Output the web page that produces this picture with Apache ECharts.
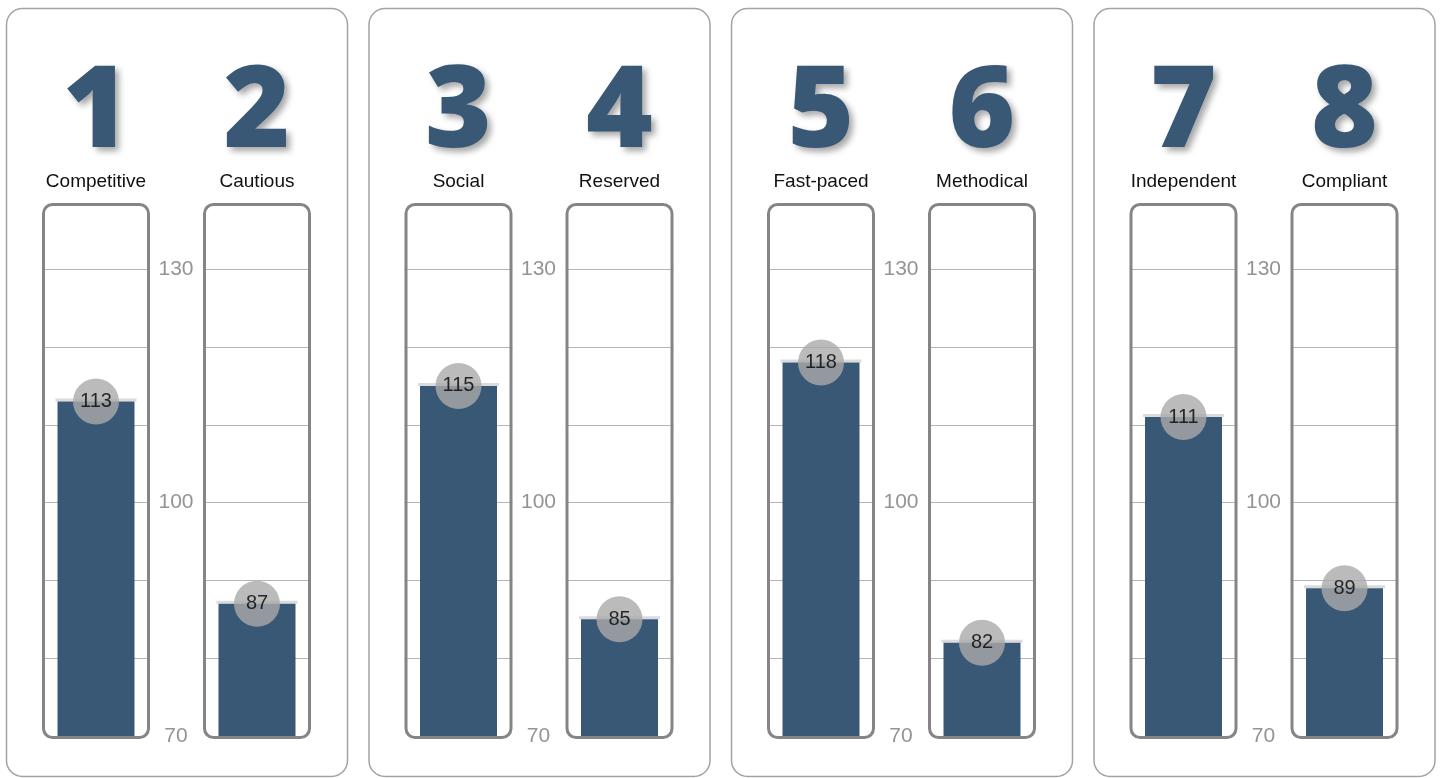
<!DOCTYPE html>
<html><head><meta charset="utf-8">
<script src="https://cdn.jsdelivr.net/npm/echarts@6/dist/echarts.min.js"></script>
<style>html,body{margin:0;padding:0;background:#fff}#c{width:1442px;height:778px}</style>
</head><body><div id="c"></div>
<script>
const ranks = ['1','2','3','4','5','6','7','8'];
const categories = ['Competitive','Cautious','Social','Reserved','Fast-paced','Methodical','Independent','Compliant'];
const scores = [113,87,115,85,118,82,111,89];
const axisMin = 70, axisMax = 138, axisStep = 10;
const gridValues = [80,90,100,110,120,130];
const shownTicks = [70,100,130];

const BAR = '#395876';
const PANEL_X0 = 6, PANEL_STEP = 362.5, PANEL_W = 341, PANEL_Y = 8, PANEL_H = 768;
const BOX_OFF = [36, 197], BOX_W = 108, GRID_TOP = 207, GRID_BOTTOM = 42;

const grids=[], xAxes=[], yAxes=[], series=[], graphics=[];
for (let p=0;p<4;p++){
  const px = PANEL_X0 + p*PANEL_STEP;
  graphics.push({type:'rect', silent:true, z:0,
    shape:{x:px+0.5,y:PANEL_Y+0.5,width:PANEL_W,height:PANEL_H,r:16},
    style:{fill:'none',stroke:'#a3a3a3',lineWidth:1.5}});
}
categories.forEach((cat,i)=>{
  const p = Math.floor(i/2), k = i%2;
  const left = PANEL_X0 + p*PANEL_STEP + BOX_OFF[k];
  grids.push({left:left, width:BOX_W, top:GRID_TOP, bottom:GRID_BOTTOM});
  xAxes.push({type:'category', gridIndex:i, data:[cat], position:'top',
    axisLine:{show:false}, axisTick:{show:false},
    axisLabel:{margin:16, fontSize:19, color:'#111', fontFamily:'Liberation Sans, Arial, sans-serif'},
    name:ranks[i], nameLocation:'middle', nameGap:35, nameMoveOverlap:false,
    nameTextStyle:{fontFamily:'Open Sans', fontWeight:800, fontSize:114, color:BAR,
      textShadowColor:'rgba(0,0,0,0.35)', textShadowBlur:6, textShadowOffsetX:4, textShadowOffsetY:4}});
  yAxes.push({type:'value', gridIndex:i, min:axisMin, max:axisMax, interval:axisStep, position:'right',
    axisLine:{show:false}, axisTick:{show:false}, splitLine:{show:false},
    axisLabel:{show:k===0, margin:26, align:'center', fontSize:21, color:'#949494',
      fontFamily:'Liberation Sans, Arial, sans-serif',
      formatter:v=>shownTicks.includes(v)?String(v):''}});
  series.push({type:'bar', xAxisIndex:i, yAxisIndex:i, data:[scores[i]], barWidth:77,
    itemStyle:{color:BAR}, z:3, animation:false,
    markLine:{silent:true, z:1, symbol:'none', label:{show:false}, animation:false,
      lineStyle:{color:'#b5b5b5', width:1, type:'solid'},
      data:gridValues.map(v=>({yAxis:v}))}});
  series.push({type:'scatter', xAxisIndex:i, yAxisIndex:i, data:[scores[i]], symbol:'rect',
    symbolSize:[81,3], symbolOffset:[0,-1.5], itemStyle:{color:'#d2d2d2'}, z:2, silent:true, animation:false});
  series.push({type:'scatter', xAxisIndex:i, yAxisIndex:i, data:[scores[i]], symbolSize:46,
    itemStyle:{color:'#aaaaaa'}, z:5, animation:false,
    label:{show:true, position:'inside', fontSize:20, color:'#000', fontFamily:'Liberation Sans, Arial, sans-serif'}});
  graphics.push({type:'rect', silent:true, z:10,
    shape:{x:left+1.5, y:GRID_TOP-2.5, width:BOX_W-3, height:(778-GRID_BOTTOM)-(GRID_TOP-2.5)+1.5, r:9},
    style:{fill:'none', stroke:'#858585', lineWidth:3}});
});
const chart = echarts.init(document.getElementById('c'));
chart.setOption({animation:false, grid:grids, xAxis:xAxes, yAxis:yAxes, series:series, graphic:graphics});
</script></body></html>
